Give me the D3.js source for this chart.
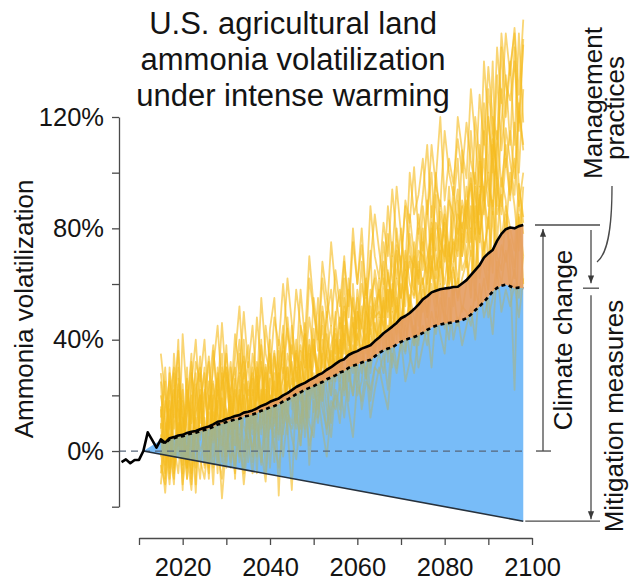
<!DOCTYPE html>
<html><head><meta charset="utf-8">
<script src="https://cdn.jsdelivr.net/npm/d3@7"></script>
<style>
body{margin:0;background:#fff}
svg{display:block}
text{font-family:"Liberation Sans",Arial,sans-serif;fill:#141414}
</style>
</head><body>
<svg id="c" width="630" height="584"></svg>
<script>
// ---------------- data ----------------
const titleLines = ["U.S. agricultural land", "ammonia volatilization", "under intense warming"];
const yAxisTitle = "Ammonia volatilization";

const histStart = 2006;
const histValues = [-4.0, -3.0, -4.4, -3.2, -3.2, 0.0, 6.7, 4.0, 1.2];

const projStart = 2015;
const meanValues = [
  4.2,3.0,4.6,5.0,5.6,5.8,6.5,6.9,7.2,7.8,
  8.4,8.8,9.6,10.5,10.8,11.5,12.0,12.6,12.9,13.8,
  14.1,14.6,15.3,16.2,16.8,17.7,18.3,18.9,20.0,20.8,
  21.9,23.0,23.8,24.5,25.5,26.3,27.3,28.0,29.2,30.1,
  31.3,32.4,33.0,34.5,35.3,35.9,36.8,37.4,38.0,39.5,
  40.8,42.3,43.5,44.7,46.0,47.7,48.5,49.6,51.0,52.6,
  54.5,55.6,57.0,57.6,58.1,58.4,58.6,58.9,59.0,60.2,
  61.4,63.2,65.0,66.8,69.5,71.0,72.2,75.5,78.0,79.7,
  80.3,80.0,80.8,81.2];

const mgmtStart = 2011;
const mgmtValues = [
  0.0,1.0,2.0,3.0,
  3.6,2.8,4.2,4.6,5.1,5.3,5.9,6.3,6.6,7.1,
  7.6,8.0,8.7,9.5,9.8,10.4,10.9,11.4,11.6,12.4,
  12.7,13.1,13.7,14.5,15.0,15.7,16.2,16.9,17.8,18.5,
  19.4,20.4,21.1,22.0,22.7,23.3,24.2,24.8,25.8,26.5,
  27.2,28.2,28.7,29.9,30.6,31.1,31.8,32.3,32.8,34.0,
  35.2,36.2,36.8,37.2,38.3,39.2,40.0,40.5,41.0,41.6,
  42.4,43.5,44.4,45.0,45.4,45.8,46.0,46.3,46.6,47.0,
  47.7,49.0,50.6,52.0,53.6,55.4,57.3,58.6,59.4,59.8,
  59.2,58.5,58.7,58.5];

const mitigationYears = [2011, 2098];
const mitigationValues = [0, -25.2];

const ensembleStart = 2015;
const member01 = [15,-5,12,22,0,9,18,-3,14,20, 2,16,25,5,19,8,22,30,10,24, 18,6,27,12,31,20,9,28,15,35, 28,14,36,22,40,19,33,45,25,38, 44,29,50,38,55,33,47,60,42,52, 58,40,65,50,72,55,68,48,75,62, 80,60,74,92,66,85,70,95,78,88, 75,98,82,110,90,120,100,135,108,125, 140,110,150,118];
const member02 = [-8,10,2,-12,15,5,-6,20,3,-10, 12,-4,8,18,-2,15,5,-8,20,9, 3,22,8,-5,18,12,25,6,30,14, 10,30,18,8,35,22,15,40,28,20, 38,25,45,30,20,42,35,50,28,46, 35,55,40,60,48,38,65,52,70,45, 62,48,70,55,80,52,66,75,60,82, 70,58,88,75,95,65,105,85,92,78, 100,88,72,95];
const member03 = [35,20,8,28,-2,42,18,10,32,25, 40,15,30,45,22,35,18,42,28,50, 30,45,22,55,35,28,48,38,60,42, 35,58,45,30,62,50,40,68,55,45, 65,52,70,48,75,60,80,55,68,85, 72,60,88,70,95,78,65,100,85,92, 105,85,110,95,88,115,100,92,120,108, 98,130,112,95,140,118,105,145,125,150, 135,152,128,155];
const member04 = [0,-15,6,-5,10,-12,2,-8,12,-3, -10,5,-6,8,-17,3,10,-5,6,-12, 4,-8,10,0,-11,12,2,-6,8,15, 5,-3,12,18,2,10,20,8,-2,15, 20,10,28,15,5,25,18,30,12,22, 30,22,15,35,28,40,25,32,45,30, 38,45,30,50,42,35,55,40,48,38, 45,52,40,60,48,55,42,65,50,58, 52,60,48,62];
const member05 = [8,25,-10,18,30,-5,22,12,-15,16, 28,0,20,-8,30,14,0,26,-4,18, 32,10,20,40,5,26,36,15,42,22, 45,25,38,30,48,35,28,52,40,32, 48,58,35,62,45,40,60,50,45,65, 55,68,50,75,62,80,58,70,66,85, 72,90,65,82,75,70,95,68,85,80, 90,75,100,85,115,95,88,110,130,102, 115,98,125,108];
const member06 = [-12,5,18,-3,8,22,-10,15,5,28, -5,20,3,15,28,-2,18,8,35,12, 25,15,-2,20,28,8,35,22,12,30, 18,40,25,12,30,44,20,35,50,28, 40,35,55,42,30,50,45,38,58,48, 50,45,58,40,62,55,72,60,55,68, 60,70,78,65,72,82,62,76,70,90, 82,70,95,78,88,100,85,115,95,110, 92,105,88,100];
const member07 = [20,10,-8,35,15,2,30,-5,24,10, 18,32,6,22,12,38,8,25,40,16, 10,35,25,14,45,32,20,40,28,48, 30,20,45,38,25,55,42,30,48,58, 35,48,40,58,52,44,68,40,55,62, 48,75,62,55,80,65,52,85,70,60, 88,72,62,100,80,68,90,85,72,108, 80,115,92,78,125,100,140,88,118,135, 110,145,100,130];
const member08 = [-5,-12,15,2,-8,12,-2,-14,8,0, 5,-6,14,0,-10,8,-4,12,2,-8, 10,0,14,-4,8,20,5,15,-2,12, 8,15,2,20,10,5,25,15,8,18, 15,24,12,28,20,32,15,25,22,30, 28,35,22,42,30,38,45,35,28,42, 45,38,50,42,55,48,40,58,45,52, 50,45,58,52,62,48,55,68,60,72, 58,65,55,70];
const member09 = [12,30,4,-10,22,14,-4,28,18,6, 15,25,-2,30,8,20,32,2,18,28, -4,18,30,8,22,-6,15,28,10,25, 20,8,30,42,15,28,12,35,22,10, 28,40,20,35,48,25,32,55,30,38, 62,45,35,58,40,70,45,55,38,65, 50,62,88,55,68,60,75,52,80,65, 70,88,62,95,72,82,110,75,98,90, 65,22,85,60];
const member10 = [25,-2,28,12,40,-8,14,35,-12,22, -6,22,38,14,2,28,18,-10,26,34, 20,28,12,32,16,40,10,30,45,6, 38,28,10,42,20,32,55,24,36,45, 25,38,62,30,42,55,28,48,72,35, 45,52,78,62,50,68,88,72,58,80, 65,85,100,72,90,78,68,88,105,75, 95,80,120,105,85,130,115,98,145,120, 138,150,115,148];
const member11 = [3,15,25,-8,5,18,10,-12,22,30, 10,-10,18,26,5,-4,30,15,6,20, 8,26,-8,22,10,35,16,4,22,30, 15,35,28,5,22,38,30,18,42,25, 50,30,42,25,60,38,52,35,45,55, 38,62,48,70,55,45,60,78,62,50, 75,55,82,70,60,88,72,65,90,70, 85,100,78,90,105,88,120,95,85,105, 90,118,95,82];
const member12 = [6,-8,30,8,18,-14,26,4,-6,14, 22,10,-12,20,35,10,-6,18,28,-2, 16,-4,20,30,-8,15,28,-16,20,8, -14,22,8,30,-5,18,10,28,15,5, 22,15,30,18,38,20,25,42,18,30, 35,28,45,30,55,40,35,50,42,38, 55,42,60,48,72,50,45,65,55,62, 68,55,80,62,75,58,90,70,65,85, 72,62,90,78];
const member13 = [28,12,-6,20,36,8,-10,24,40,15, 30,-2,36,20,46,24,12,34,52,26, 38,20,48,30,16,44,55,26,38,62, 46,30,58,40,70,52,36,62,48,75, 58,44,68,52,80,60,74,56,88,70, 62,82,70,94,76,66,90,82,102,78, 92,110,84,98,120,90,105,96,112,100, 118,104,96,128,110,138,120,112,150,132, 126,140,118,146];
const member14 = [-2,18,10,-6,26,12,4,-10,16,34, 6,-8,24,12,-4,30,14,2,22,-6, 22,8,32,18,0,26,12,36,6,24, 32,16,2,28,38,14,30,22,6,36, 30,46,22,36,28,50,40,26,44,34, 48,36,58,44,52,40,62,48,38,56, 62,50,68,58,46,74,60,66,54,78, 66,80,58,92,70,84,64,98,76,88, 80,72,96,84];
const member15 = [10,-10,20,30,2,24,-6,16,28,4, 20,34,12,-4,24,30,6,22,14,40, 12,30,18,38,24,10,34,20,26,44, 24,36,18,46,30,40,22,50,34,28, 42,30,52,40,34,58,44,62,36,50, 56,48,64,52,74,46,60,68,56,72, 70,64,80,62,86,76,58,82,94,70, 88,96,76,104,92,80,112,100,88,116, 104,92,122,110];
const member16 = [16,4,-12,10,24,-2,14,32,0,20, -2,14,4,28,16,-6,20,10,-2,32, 14,-2,24,6,30,18,-4,24,36,14, 26,10,32,24,12,40,26,18,36,20, 34,22,40,28,46,30,38,26,52,44, 40,54,32,50,42,60,36,56,48,40, 58,48,66,52,60,44,70,56,62,50, 60,72,54,80,66,58,86,62,74,68, 76,66,84,70];
const ensemble = [member01,member02,member03,member04,member05,member06,member07,member08,
                  member09,member10,member11,member12,member13,member14,member15,member16];

const yTicks = [-20, 0, 20, 40, 60, 80, 100, 120];
const yLabels = [0, 40, 80, 120];
const xTicks = [2010, 2020, 2030, 2040, 2050, 2060, 2070, 2080, 2090, 2100];
const xLabels = [2020, 2040, 2060, 2080, 2100];

// ---------------- drawing ----------------
const svg = d3.select("#c");
const x = d3.scaleLinear().domain([2010, 2100]).range([139, 532]);
const y = d3.scaleLinear().domain([-20, 120]).range([506.7, 117]);
const axisX = 119, axisY = 538;

const series = (start, arr) => arr.map((v, i) => ({year: start + i, value: v}));
const line = d3.line().x(d => x(d.year)).y(d => y(d.value));

const meanPts = series(projStart, meanValues);
const mgmtPts = series(mgmtStart, mgmtValues);
const histPts = series(histStart, histValues);
const mitPts = mitigationYears.map((yr, i) => ({year: yr, value: mitigationValues[i]}));
const mgmtMap = new Map(mgmtPts.map(d => [d.year, d.value]));
const bluePoly = mgmtPts.concat(mitPts.slice().reverse());
const bluePath = line(bluePoly) + "Z";

const defs = svg.append("defs");
defs.append("clipPath").attr("id", "blueClip").append("path").attr("d", bluePath);

const drawEnsemble = (g, color, opacity) => ensemble.forEach(m => {
  g.append("path").attr("d", line(series(ensembleStart, m)))
    .attr("fill", "none").attr("stroke", color).attr("stroke-opacity", opacity)
    .attr("stroke-width", 1.8).attr("stroke-linejoin", "round");
});

// ensemble members (on white)
drawEnsemble(svg.append("g"), "#F6BC1E", 0.62);

// blue polygon (mitigation), opaque, with members seen through it
svg.append("path").attr("d", bluePath).attr("fill", "#78BCF8");
drawEnsemble(svg.append("g").attr("clip-path", "url(#blueClip)"), "#A7B486", 0.6);

// orange band (climate change beyond management)
const band = meanPts.map(d => ({year: d.year, lo: mgmtMap.get(d.year), hi: d.value}));
svg.append("path")
  .attr("d", d3.area().x(d => x(d.year)).y0(d => y(d.lo)).y1(d => y(d.hi))(band))
  .attr("fill", "#E49C62").attr("fill-opacity", 0.9);

// zero reference
svg.append("line").attr("x1", axisX).attr("x2", x(mitigationYears[1]))
  .attr("y1", y(0)).attr("y2", y(0))
  .attr("stroke", "#56657a").attr("stroke-width", 1.3).attr("stroke-dasharray", "7,5");

// mitigation lower edge
svg.append("path").attr("d", line(mitPts)).attr("fill", "none")
  .attr("stroke", "#26313d").attr("stroke-width", 1.6);

// management (dashed)
svg.append("path").attr("d", line(mgmtPts.filter(d => d.year >= projStart)))
  .attr("fill", "none").attr("stroke", "#000").attr("stroke-width", 2.6)
  .attr("stroke-dasharray", "4,3.5");

// history + mean (solid)
svg.append("path").attr("d", line(histPts.concat(meanPts)))
  .attr("fill", "none").attr("stroke", "#000").attr("stroke-width", 2.6)
  .attr("stroke-linejoin", "round");

// axes
const yAxis = svg.append("g").attr("transform", `translate(${axisX},0)`)
  .call(d3.axisLeft(y).tickValues(yTicks).tickSize(7).tickSizeOuter(0).tickPadding(8)
    .tickFormat(d => yLabels.includes(d) ? d + "%" : ""));
const xAxis = svg.append("g").attr("transform", `translate(0,${axisY})`)
  .call(d3.axisBottom(x).tickValues(xTicks).tickSize(7).tickSizeOuter(0).tickPadding(13)
    .tickFormat(d => xLabels.includes(d) ? d : ""));
[yAxis, xAxis].forEach(g => {
  g.selectAll("path,line").attr("stroke", "#4a4a4a").attr("stroke-width", 1.3);
  g.selectAll("text").attr("font-size", 25.5).attr("font-family", "Liberation Sans, Arial, sans-serif").attr("fill", "#141414");
});

// y axis title
svg.append("text").attr("transform", "translate(33,309) rotate(-90)")
  .attr("text-anchor", "middle").attr("font-size", 26).text(yAxisTitle);

// title
svg.append("g").selectAll("text").data(titleLines).join("text")
  .attr("x", 293).attr("y", (d, i) => 34 + i * 36)
  .attr("text-anchor", "middle").attr("font-size", 31).text(d => d);

// annotations
defs.append("marker").attr("id", "arr").attr("viewBox", "0 0 10 10")
  .attr("refX", 10).attr("refY", 5).attr("markerWidth", 6).attr("markerHeight", 6)
  .attr("orient", "auto").append("path").attr("d", "M0,1L10,5L0,9Z").attr("fill", "#3a3a3a");

const yTop = y(meanValues[meanValues.length - 1]);
const yMid = y(mgmtValues[mgmtValues.length - 1]);
const yBot = y(mitigationValues[1]);
const yZero = y(0);
const ann = svg.append("g").attr("stroke", "#4a4a4a").attr("stroke-width", 1.3).attr("fill", "none");
ann.append("line").attr("x1", 535).attr("x2", 600).attr("y1", yTop).attr("y2", yTop);
ann.append("line").attr("x1", 543).attr("x2", 543).attr("y1", yZero).attr("y2", yTop + 4).attr("marker-end", "url(#arr)");
ann.append("line").attr("x1", 536).attr("x2", 551).attr("y1", yZero).attr("y2", yZero);
ann.append("line").attr("x1", 591).attr("x2", 591).attr("y1", yTop + 5).attr("y2", yMid - 5).attr("marker-end", "url(#arr)");
ann.append("line").attr("x1", 583).attr("x2", 599).attr("y1", yMid).attr("y2", yMid);
ann.append("line").attr("x1", 591).attr("x2", 591).attr("y1", yMid + 7).attr("y2", yBot - 2).attr("marker-end", "url(#arr)");
ann.append("line").attr("x1", x(mitigationYears[1]) + 2).attr("x2", 600).attr("y1", yBot).attr("y2", yBot);
ann.append("path").attr("d", "M612,186 C612,232 607,254 597,262");

svg.append("text").attr("transform", `translate(572,${(yTop + yZero) / 2 + 2}) rotate(-90)`)
  .attr("text-anchor", "middle").attr("font-size", 26).text("Climate change");
svg.append("text").attr("transform", "translate(623,416) rotate(-90)")
  .attr("text-anchor", "middle").attr("font-size", 26).text("Mitigation measures");
svg.append("text").attr("transform", "translate(602,103) rotate(-90)")
  .attr("text-anchor", "middle").attr("font-size", 26).text("Management");
svg.append("text").attr("transform", "translate(624,108) rotate(-90)")
  .attr("text-anchor", "middle").attr("font-size", 26).text("practices");
</script>
</body></html>
